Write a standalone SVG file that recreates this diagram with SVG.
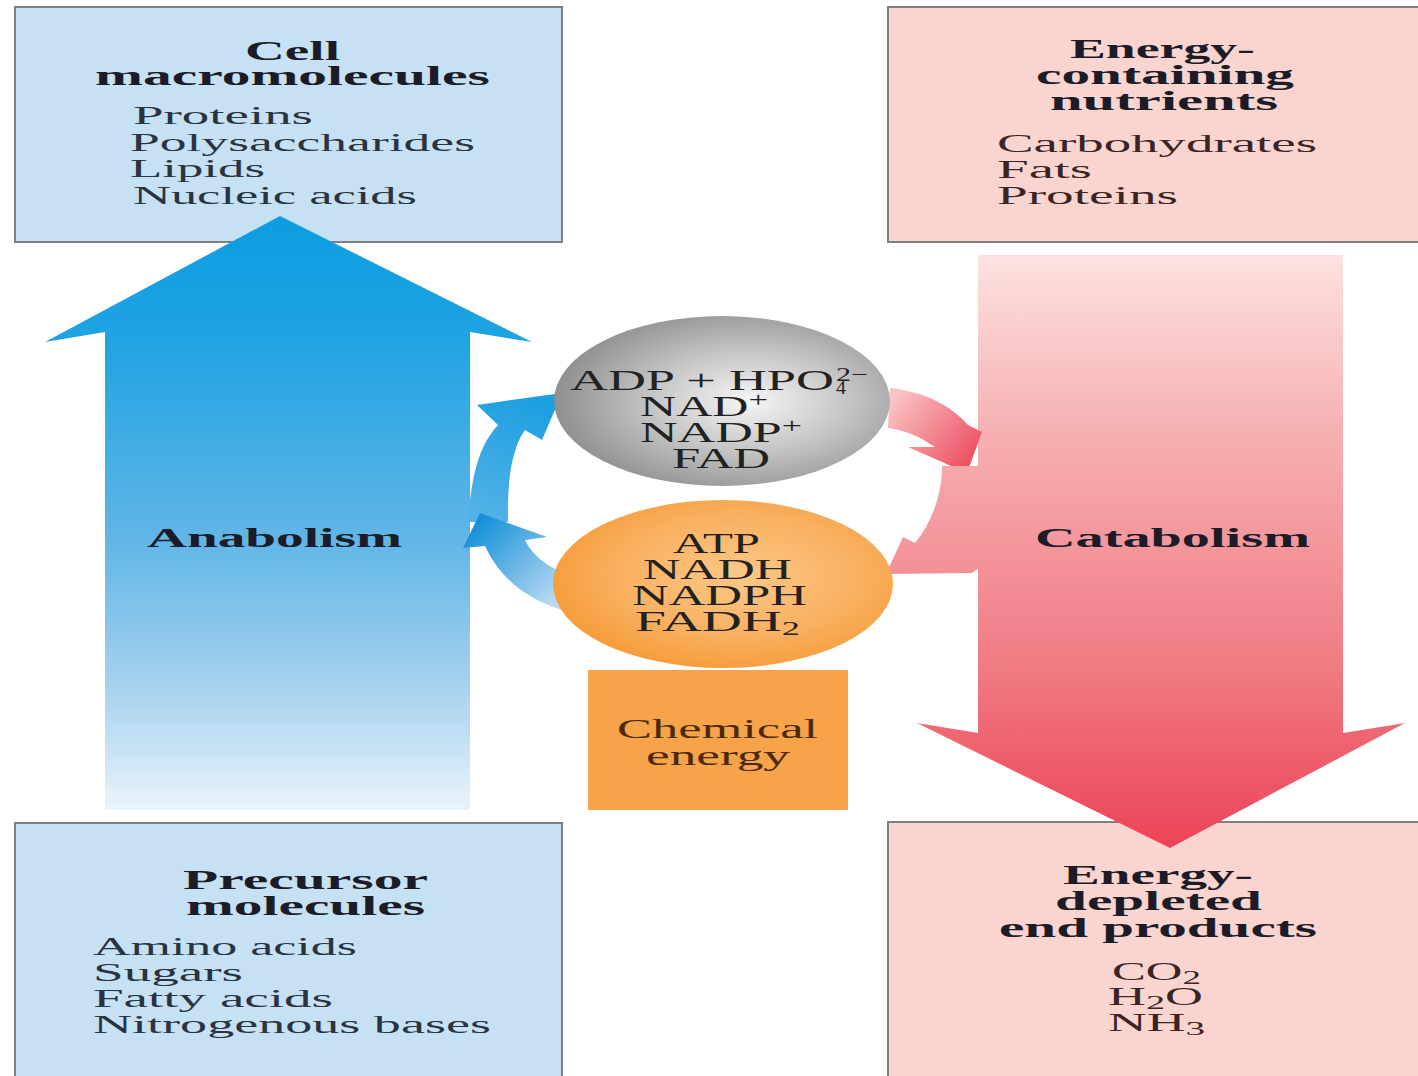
<svg xmlns="http://www.w3.org/2000/svg" width="1418" height="1076" viewBox="0 0 1418 1076">
<defs>
<style>
.box{stroke:#808080;stroke-width:2}
.blue{fill:#c6e1f4}
.pink{fill:#fad4cf}
.h{font-family:"Liberation Serif",serif;font-weight:bold;font-size:28px;fill:#1c1c28}
.t{font-family:"Liberation Serif",serif;font-size:26px;fill:#2a3340}
.tr{font-family:"Liberation Serif",serif;font-size:26px;fill:#3a2424}
.c{font-family:"Liberation Serif",serif;font-size:29px;fill:#222}
.s{font-family:"Liberation Serif",serif;font-size:19px;fill:#222}
.ce{font-family:"Liberation Serif",serif;font-size:28px;fill:#4a2a08}
</style>
<linearGradient id="gBlue" gradientUnits="userSpaceOnUse" x1="0" y1="216" x2="0" y2="810">
<stop offset="0" stop-color="#0c9de0"/><stop offset="0.2" stop-color="#1fa3e2"/><stop offset="0.55" stop-color="#62b6e6"/><stop offset="0.8" stop-color="#a9d3ef"/><stop offset="1" stop-color="#eaf4fb"/>
</linearGradient>
<linearGradient id="gRed" gradientUnits="userSpaceOnUse" x1="0" y1="255" x2="0" y2="848">
<stop offset="0" stop-color="#fde2e0"/><stop offset="0.3" stop-color="#f6b0b2"/><stop offset="0.7" stop-color="#f07a82"/><stop offset="1" stop-color="#ec4358"/>
</linearGradient>
<linearGradient id="gBU" gradientUnits="userSpaceOnUse" x1="490" y1="520" x2="540" y2="400">
<stop offset="0" stop-color="#52b2e6"/><stop offset="1" stop-color="#1c9fe0"/>
</linearGradient>
<linearGradient id="gBL" gradientUnits="userSpaceOnUse" x1="480" y1="520" x2="560" y2="600">
<stop offset="0" stop-color="#1590d8"/><stop offset="1" stop-color="#bcdcf2"/>
</linearGradient>
<linearGradient id="gRU" gradientUnits="userSpaceOnUse" x1="893" y1="400" x2="975" y2="465">
<stop offset="0" stop-color="#f9c3c3"/><stop offset="1" stop-color="#ec4a5d"/>
</linearGradient>
<radialGradient id="gGray" cx="0.58" cy="0.5" r="0.6">
<stop offset="0" stop-color="#f6f6f6"/><stop offset="0.5" stop-color="#c4c4c4"/><stop offset="1" stop-color="#8c8c8c"/>
</radialGradient>
<radialGradient id="gOr" cx="0.55" cy="0.45" r="0.6">
<stop offset="0" stop-color="#fcc886"/><stop offset="0.6" stop-color="#f9b060"/><stop offset="1" stop-color="#f59a36"/>
</radialGradient>
</defs>
<rect width="1418" height="1076" fill="#ffffff"/>

<g id="cell-macromolecules">
<rect class="box blue" x="15" y="7" width="547" height="235"/>
<text class="h"><tspan x="245" y="60" textLength="95" lengthAdjust="spacingAndGlyphs">Cell</tspan><tspan x="95" y="85" textLength="395" lengthAdjust="spacingAndGlyphs">macromolecules</tspan></text>
<text class="t"><tspan x="133" y="124" textLength="180" lengthAdjust="spacingAndGlyphs">Proteins</tspan><tspan x="130" y="151" textLength="345" lengthAdjust="spacingAndGlyphs">Polysaccharides</tspan><tspan x="130" y="177" textLength="135" lengthAdjust="spacingAndGlyphs">Lipids</tspan><tspan x="133" y="204" textLength="284" lengthAdjust="spacingAndGlyphs">Nucleic acids</tspan></text>
</g>

<g id="energy-containing-nutrients">
<rect class="box pink" x="888" y="7" width="540" height="235"/>
<text class="h"><tspan x="1070" y="58" textLength="185" lengthAdjust="spacingAndGlyphs">Energy-</tspan><tspan x="1036" y="84" textLength="258" lengthAdjust="spacingAndGlyphs">containing</tspan><tspan x="1050" y="110" textLength="228" lengthAdjust="spacingAndGlyphs">nutrients</tspan></text>
<text class="tr"><tspan x="997" y="152" textLength="320" lengthAdjust="spacingAndGlyphs">Carbohydrates</tspan><tspan x="997" y="178" textLength="95" lengthAdjust="spacingAndGlyphs">Fats</tspan><tspan x="997" y="204" textLength="181" lengthAdjust="spacingAndGlyphs">Proteins</tspan></text>
</g>

<g id="precursor-molecules">
<rect class="box blue" x="15" y="823" width="547" height="270"/>
<text class="h"><tspan x="183" y="889" textLength="245" lengthAdjust="spacingAndGlyphs">Precursor</tspan><tspan x="186" y="915" textLength="239" lengthAdjust="spacingAndGlyphs">molecules</tspan></text>
<text class="t"><tspan x="93" y="955" textLength="264" lengthAdjust="spacingAndGlyphs">Amino acids</tspan><tspan x="93" y="981" textLength="150" lengthAdjust="spacingAndGlyphs">Sugars</tspan><tspan x="93" y="1007" textLength="240" lengthAdjust="spacingAndGlyphs">Fatty acids</tspan><tspan x="93" y="1033" textLength="398" lengthAdjust="spacingAndGlyphs">Nitrogenous bases</tspan></text>
</g>

<g id="energy-depleted-end-products">
<rect class="box pink" x="888" y="822" width="540" height="270"/>
<text class="h"><tspan x="1063" y="884" textLength="190" lengthAdjust="spacingAndGlyphs">Energy-</tspan><tspan x="1055" y="910" textLength="207" lengthAdjust="spacingAndGlyphs">depleted</tspan><tspan x="999" y="937" textLength="318" lengthAdjust="spacingAndGlyphs">end products</tspan></text>
<text class="tr"><tspan x="1112" y="980" textLength="89" lengthAdjust="spacingAndGlyphs">CO<tspan font-size="19" dy="4">2</tspan></tspan><tspan x="1108" y="1005" textLength="95" lengthAdjust="spacingAndGlyphs">H<tspan font-size="19" dy="4">2</tspan><tspan dy="-4">O</tspan></tspan><tspan x="1108" y="1031" textLength="97" lengthAdjust="spacingAndGlyphs">NH<tspan font-size="19" dy="4">3</tspan></tspan></text>
</g>

<g id="anabolism">
<path d="M105 810 L105 332 L45 342 L280 216 L532 342 L470 332 L470 810 Z" fill="url(#gBlue)"/>
<text class="h" x="147" y="547" textLength="255" lengthAdjust="spacingAndGlyphs">Anabolism</text>
</g>

<g id="catabolism">
<path d="M978 255 L1343 255 L1343 733 L1405 723 L1170 848 L917 723 L978 733 Z" fill="url(#gRed)"/>
<text class="h" x="1035" y="547" textLength="275" lengthAdjust="spacingAndGlyphs">Catabolism</text>
</g>

<g id="connectors">
<path d="M468 522 C472 470 480 445 498 425 L477 405 L562 393 L542 440 L525 430 C512 448 507 480 508 522 Z" fill="url(#gBU)"/>
<path d="M480 513 L547 537 L525 540 C532 555 545 565 562 572 L562 610 C525 598 500 578 485 546 L463 548 Z" fill="url(#gBL)"/>
<path d="M890 388 C925 392 950 405 968 425 L982 432 L967 473 L908 447 L935 447 C920 437 905 430 888 428 Z" fill="url(#gRU)"/>
<path d="M942 466 L990 466 L990 560 C982 566 976 570 972 573 L886 574 L903 537 L915 543 C932 522 942 495 942 466 Z" fill="url(#gRed)"/>
</g>

<g id="oxidized-carriers">
<ellipse cx="722" cy="401" rx="168" ry="85" fill="url(#gGray)"/>
<text class="c" x="570" y="390" textLength="264" lengthAdjust="spacingAndGlyphs">ADP + HPO</text>
<text class="s" x="836" y="381" textLength="32" lengthAdjust="spacingAndGlyphs">2−</text>
<text class="s" x="836" y="394" textLength="10" lengthAdjust="spacingAndGlyphs">4</text>
<text class="c"><tspan x="640" y="416" textLength="128" lengthAdjust="spacingAndGlyphs">NAD<tspan font-size="20" dy="-9">+</tspan></tspan><tspan x="640" y="442" textLength="162" lengthAdjust="spacingAndGlyphs">NADP<tspan font-size="20" dy="-9">+</tspan></tspan><tspan x="672" y="468" textLength="98" lengthAdjust="spacingAndGlyphs">FAD</tspan></text>
</g>

<g id="reduced-carriers">
<ellipse cx="723" cy="584" rx="170" ry="84" fill="url(#gOr)"/>
<text class="c"><tspan x="673" y="553" textLength="87" lengthAdjust="spacingAndGlyphs">ATP</tspan><tspan x="643" y="579" textLength="149" lengthAdjust="spacingAndGlyphs">NADH</tspan><tspan x="632" y="605" textLength="175" lengthAdjust="spacingAndGlyphs">NADPH</tspan><tspan x="635" y="631" textLength="165" lengthAdjust="spacingAndGlyphs">FADH<tspan font-size="19" dy="4">2</tspan></tspan></text>
</g>

<g id="chemical-energy">
<rect x="588" y="670" width="260" height="140" fill="#f6a349"/>
<text class="ce"><tspan x="617" y="738" textLength="201" lengthAdjust="spacingAndGlyphs">Chemical</tspan><tspan x="646" y="765" textLength="144" lengthAdjust="spacingAndGlyphs">energy</tspan></text>
</g>
</svg>
